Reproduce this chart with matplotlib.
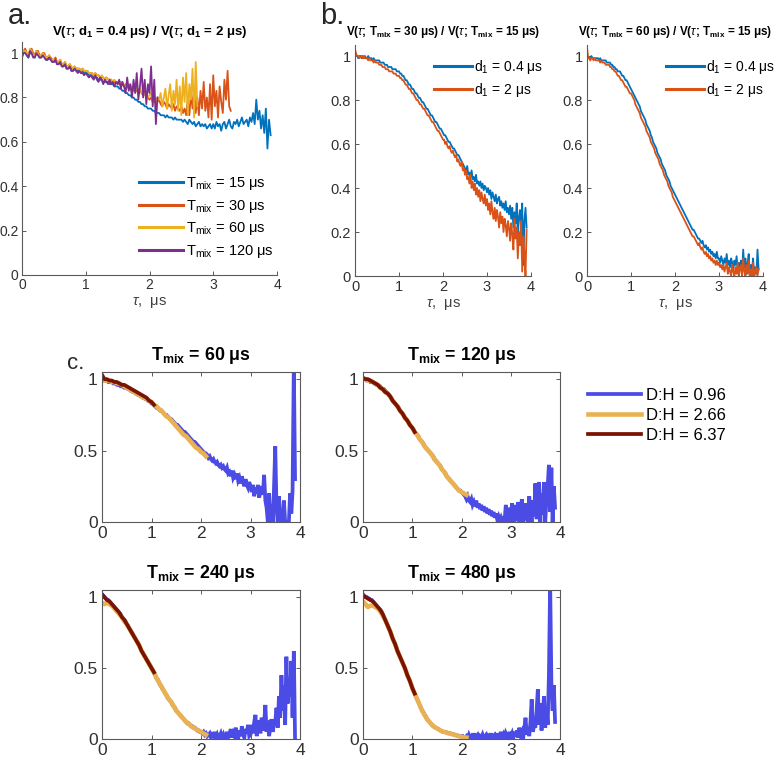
import numpy as np
import matplotlib
matplotlib.use("Agg")
import matplotlib.pyplot as plt

plt.rcParams['font.family'] = ['Liberation Sans', 'DejaVu Sans']
plt.rcParams['mathtext.fontset'] = 'custom'
plt.rcParams['mathtext.rm'] = 'Liberation Sans'
plt.rcParams['mathtext.it'] = 'Liberation Sans:italic'
plt.rcParams['mathtext.bf'] = 'Liberation Sans:bold'

STEP_FINE = 0.025
STEP_FIT = 0.05

# ---------------- Panel a: ratio d1=0.4 / d1=2 for several Tmix ----------------
a_labels = ["15", "30", "60", "120"]
a_tmix15 = [
    0.99, 1.00, 1.01, 0.99, 0.98, 1.00, 1.01, 0.99, 0.98, 1.00, 1.00, 0.98, 0.98, 0.99, 0.99, 0.97, 0.97, 0.98, 0.97, 0.96,
    0.96, 0.97, 0.95, 0.95, 0.96, 0.94, 0.94, 0.95, 0.93, 0.93, 0.94, 0.92, 0.92, 0.93, 0.92, 0.92, 0.92, 0.91, 0.92, 0.91,
    0.91, 0.91, 0.90, 0.90, 0.90, 0.89, 0.89, 0.89, 0.88, 0.88, 0.88, 0.87, 0.87, 0.87, 0.87, 0.86, 0.86, 0.86, 0.85, 0.85,
    0.85, 0.84, 0.84, 0.83, 0.83, 0.82, 0.82, 0.81, 0.81, 0.80, 0.80, 0.79, 0.79, 0.78, 0.78, 0.77, 0.77, 0.76, 0.76, 0.75,
    0.75, 0.75, 0.74, 0.74, 0.73, 0.73, 0.73, 0.72, 0.72, 0.72, 0.71, 0.72, 0.71, 0.71, 0.71, 0.70, 0.71, 0.70, 0.70, 0.70,
    0.70, 0.69, 0.70, 0.69, 0.68, 0.70, 0.69, 0.68, 0.69, 0.67, 0.68, 0.69, 0.67, 0.68, 0.67, 0.68, 0.66, 0.67, 0.68, 0.66,
    0.68, 0.66, 0.69, 0.67, 0.68, 0.65, 0.68, 0.69, 0.66, 0.68, 0.70, 0.67, 0.66, 0.69, 0.68, 0.70, 0.67, 0.69, 0.71, 0.68,
    0.69, 0.70, 0.67, 0.71, 0.69, 0.73, 0.68, 0.79, 0.70, 0.74, 0.66, 0.72, 0.64, 0.75, 0.57, 0.70, 0.63,
]
a_tmix30 = [
    1.00, 1.01, 1.02, 1.00, 0.99, 1.01, 1.02, 1.00, 0.99, 1.01, 1.01, 0.99, 0.99, 1.00, 1.00, 0.98, 0.98, 0.99, 0.98, 0.97,
    0.97, 0.98, 0.96, 0.96, 0.97, 0.95, 0.95, 0.96, 0.94, 0.94, 0.95, 0.93, 0.93, 0.94, 0.93, 0.93, 0.93, 0.92, 0.93, 0.92,
    0.92, 0.92, 0.91, 0.91, 0.91, 0.90, 0.91, 0.90, 0.90, 0.89, 0.89, 0.89, 0.88, 0.89, 0.88, 0.88, 0.88, 0.87, 0.87, 0.87,
    0.87, 0.86, 0.87, 0.86, 0.85, 0.86, 0.85, 0.84, 0.85, 0.84, 0.83, 0.84, 0.83, 0.82, 0.83, 0.82, 0.81, 0.82, 0.81, 0.80,
    0.79, 0.80, 0.78, 0.79, 0.77, 0.78, 0.79, 0.77, 0.76, 0.78, 0.77, 0.75, 0.77, 0.76, 0.75, 0.77, 0.74, 0.76, 0.75, 0.74,
    0.76, 0.73, 0.75, 0.72, 0.79, 0.72, 0.82, 0.75, 0.84, 0.73, 0.80, 0.72, 0.83, 0.75, 0.87, 0.74, 0.80, 0.71, 0.86, 0.70,
    0.90, 0.76, 0.83, 0.71, 0.85, 0.78, 0.73, 0.88, 0.79, 0.92, 0.76, 0.74,
]
a_tmix60 = [
    1.00, 1.01, 1.01, 1.00, 0.99, 1.02, 1.01, 0.99, 0.99, 1.01, 1.00, 0.98, 0.99, 1.00, 0.99, 0.98, 0.98, 0.99, 0.97, 0.97,
    0.97, 0.97, 0.96, 0.96, 0.97, 0.95, 0.95, 0.96, 0.94, 0.94, 0.95, 0.94, 0.93, 0.94, 0.93, 0.93, 0.93, 0.92, 0.93, 0.92,
    0.92, 0.92, 0.91, 0.91, 0.91, 0.90, 0.91, 0.90, 0.90, 0.89, 0.90, 0.89, 0.88, 0.89, 0.88, 0.88, 0.88, 0.87, 0.88, 0.87,
    0.87, 0.87, 0.86, 0.87, 0.85, 0.86, 0.85, 0.86, 0.84, 0.85, 0.84, 0.83, 0.85, 0.82, 0.84, 0.82, 0.83, 0.81, 0.82, 0.80,
    0.81, 0.82, 0.79, 0.81, 0.78, 0.80, 0.79, 0.82, 0.76, 0.80, 0.84, 0.75, 0.81, 0.86, 0.74, 0.83, 0.77, 0.88, 0.74, 0.85,
    0.72, 0.89, 0.78, 0.91, 0.72, 0.86, 0.79, 0.93, 0.71, 0.96, 0.76,
]
a_tmix120 = [
    0.98, 1.00, 1.00, 0.99, 0.98, 1.01, 1.00, 0.98, 0.98, 1.00, 0.99, 0.98, 0.98, 0.99, 0.98, 0.97, 0.97, 0.98, 0.97, 0.96,
    0.96, 0.97, 0.95, 0.95, 0.96, 0.94, 0.94, 0.95, 0.93, 0.93, 0.94, 0.92, 0.92, 0.93, 0.92, 0.91, 0.92, 0.91, 0.91, 0.90,
    0.91, 0.90, 0.89, 0.90, 0.89, 0.88, 0.90, 0.88, 0.87, 0.89, 0.88, 0.86, 0.88, 0.87, 0.86, 0.88, 0.86, 0.87, 0.85, 0.87,
    0.86, 0.88, 0.84, 0.87, 0.85, 0.82, 0.89, 0.83, 0.86, 0.80, 0.88, 0.82, 0.91, 0.79, 0.85, 0.93, 0.80, 0.88, 0.77, 0.86,
    0.82, 0.94, 0.76, 0.88, 0.68, 0.80,
]
a_colors = ["#0072BD", "#D95319", "#EDB120", "#7E2F8E"]

# ---------------- Panel b: Tmix ratios for two d1 ----------------
b_titles = [r"V($\tau$; T$_{\mathbf{mix}}$ = 30 μs) / V($\tau$; T$_{\mathbf{mix}}$ = 15 μs)",
            r"V($\tau$; T$_{\mathbf{mix}}$ = 60 μs) / V($\tau$; T$_{\mathbf{mix}}$ = 15 μs)"]
b_labels = ["0.4", "2"]
b1_d04 = [
    1.02, 1.00, 1.00, 0.99, 1.00, 1.00, 0.99, 1.00, 0.99, 1.00, 0.99, 0.99, 1.00, 0.99, 0.99, 0.99, 0.98, 0.99, 0.98, 0.98,
    0.98, 0.98, 0.98, 0.97, 0.97, 0.97, 0.97, 0.96, 0.96, 0.96, 0.95, 0.95, 0.95, 0.95, 0.94, 0.94, 0.94, 0.94, 0.93, 0.93,
    0.93, 0.92, 0.92, 0.91, 0.91, 0.90, 0.89, 0.89, 0.88, 0.87, 0.87, 0.86, 0.85, 0.85, 0.84, 0.83, 0.83, 0.82, 0.81, 0.81,
    0.80, 0.79, 0.79, 0.78, 0.77, 0.76, 0.76, 0.75, 0.74, 0.73, 0.73, 0.72, 0.71, 0.70, 0.70, 0.69, 0.68, 0.67, 0.67, 0.66,
    0.65, 0.64, 0.64, 0.63, 0.62, 0.61, 0.61, 0.60, 0.59, 0.58, 0.58, 0.57, 0.56, 0.55, 0.55, 0.54, 0.53, 0.52, 0.51, 0.50,
    0.49, 0.47, 0.50, 0.46, 0.47, 0.45, 0.48, 0.44, 0.45, 0.43, 0.46, 0.42, 0.43, 0.41, 0.43, 0.40, 0.42, 0.39, 0.41, 0.40,
    0.38, 0.40, 0.37, 0.39, 0.35, 0.38, 0.36, 0.34, 0.37, 0.33, 0.35, 0.36, 0.32, 0.34, 0.31, 0.33, 0.30, 0.34, 0.29, 0.31,
    0.28, 0.32, 0.26, 0.31, 0.22, 0.29, 0.24, 0.33, 0.18, 0.27, 0.30, 0.21, 0.33, 0.05, 0.25, 0.31, 0.22,
]
b1_d2 = [
    1.03, 1.01, 1.00, 1.00, 0.99, 1.00, 1.00, 0.99, 1.00, 0.99, 0.99, 0.99, 0.98, 0.99, 0.98, 0.98, 0.98, 0.97, 0.98, 0.97,
    0.97, 0.97, 0.96, 0.96, 0.96, 0.95, 0.95, 0.95, 0.94, 0.94, 0.94, 0.93, 0.93, 0.93, 0.93, 0.92, 0.92, 0.92, 0.91, 0.91,
    0.91, 0.90, 0.90, 0.89, 0.89, 0.88, 0.87, 0.87, 0.86, 0.85, 0.85, 0.84, 0.83, 0.83, 0.82, 0.81, 0.80, 0.80, 0.79, 0.78,
    0.78, 0.77, 0.76, 0.76, 0.75, 0.74, 0.73, 0.73, 0.72, 0.71, 0.70, 0.70, 0.69, 0.68, 0.67, 0.66, 0.66, 0.65, 0.64, 0.63,
    0.62, 0.62, 0.60, 0.61, 0.59, 0.58, 0.59, 0.57, 0.56, 0.57, 0.55, 0.54, 0.55, 0.52, 0.53, 0.51, 0.50, 0.52, 0.48, 0.49,
    0.46, 0.48, 0.44, 0.45, 0.42, 0.46, 0.40, 0.43, 0.39, 0.42, 0.37, 0.40, 0.36, 0.39, 0.34, 0.38, 0.35, 0.33, 0.37, 0.32,
    0.35, 0.30, 0.33, 0.28, 0.34, 0.29, 0.26, 0.31, 0.25, 0.30, 0.27, 0.22, 0.29, 0.24, 0.27, 0.20, 0.26, 0.23, 0.18, 0.25,
    0.22, 0.16, 0.24, 0.19, 0.12, 0.26, 0.17, 0.22, 0.08, 0.20, 0.14, 0.25, 0.02, 0.18, 0.10, 0.00, 0.21,
]
b2_d04 = [
    1.01, 0.99, 0.99, 0.99, 1.00, 0.99, 0.99, 0.99, 0.99, 0.99, 0.99, 0.98, 0.99, 0.98, 0.98, 0.98, 0.98, 0.98, 0.97, 0.97,
    0.97, 0.97, 0.96, 0.96, 0.95, 0.95, 0.94, 0.94, 0.93, 0.93, 0.93, 0.92, 0.91, 0.91, 0.90, 0.89, 0.89, 0.88, 0.87, 0.86,
    0.85, 0.84, 0.83, 0.82, 0.81, 0.80, 0.79, 0.78, 0.77, 0.75, 0.74, 0.73, 0.72, 0.71, 0.69, 0.68, 0.67, 0.66, 0.64, 0.63,
    0.61, 0.60, 0.59, 0.58, 0.56, 0.55, 0.54, 0.53, 0.51, 0.50, 0.49, 0.48, 0.46, 0.45, 0.44, 0.43, 0.41, 0.40, 0.39, 0.38,
    0.37, 0.36, 0.35, 0.34, 0.33, 0.32, 0.31, 0.30, 0.29, 0.28, 0.27, 0.26, 0.25, 0.24, 0.23, 0.22, 0.21, 0.21, 0.20, 0.19,
    0.18, 0.17, 0.17, 0.16, 0.15, 0.16, 0.14, 0.13, 0.14, 0.12, 0.13, 0.11, 0.12, 0.10, 0.11, 0.09, 0.10, 0.08, 0.11, 0.08,
    0.08, 0.06, 0.09, 0.07, 0.05, 0.08, 0.06, 0.10, 0.05, 0.07, 0.04, 0.08, 0.06, 0.03, 0.07, 0.05, 0.09, 0.03, 0.06, 0.04,
    0.07, 0.02, 0.12, 0.04, 0.08, 0.01, 0.06, 0.10, 0.00, 0.05, 0.03, 0.08, 0.00, 0.04, 0.01, 0.12, 0.03,
]
b2_d2 = [
    1.04, 0.99, 0.99, 0.98, 0.99, 0.99, 0.98, 0.99, 0.98, 0.98, 0.98, 0.98, 0.97, 0.98, 0.97, 0.97, 0.97, 0.96, 0.96, 0.96,
    0.96, 0.95, 0.95, 0.94, 0.94, 0.93, 0.93, 0.92, 0.91, 0.91, 0.90, 0.89, 0.89, 0.88, 0.87, 0.86, 0.86, 0.85, 0.84, 0.83,
    0.83, 0.82, 0.81, 0.80, 0.78, 0.77, 0.76, 0.75, 0.74, 0.72, 0.71, 0.70, 0.69, 0.68, 0.66, 0.65, 0.64, 0.63, 0.61, 0.60,
    0.59, 0.58, 0.56, 0.55, 0.54, 0.53, 0.51, 0.50, 0.49, 0.48, 0.46, 0.45, 0.44, 0.43, 0.41, 0.40, 0.39, 0.38, 0.36, 0.35,
    0.34, 0.33, 0.32, 0.31, 0.30, 0.29, 0.28, 0.27, 0.26, 0.25, 0.24, 0.23, 0.22, 0.21, 0.20, 0.19, 0.18, 0.18, 0.17, 0.16,
    0.15, 0.14, 0.15, 0.13, 0.12, 0.13, 0.11, 0.10, 0.11, 0.09, 0.10, 0.08, 0.09, 0.07, 0.08, 0.06, 0.07, 0.05, 0.07, 0.05,
    0.06, 0.04, 0.05, 0.03, 0.05, 0.02, 0.04, 0.06, 0.01, 0.04, 0.02, 0.00, 0.05, 0.02, 0.00, 0.04, 0.01, 0.06, 0.00, 0.03,
    0.05, 0.00, 0.08, 0.02, 0.00, 0.05, 0.01, 0.07, 0.00, 0.03, 0.00, 0.06, 0.00, 0.02, 0.04, 0.00, 0.03,
]
b_colors = ["#0072BD", "#D95319"]

# ---------------- Panel c: data (blue) + fits for three D:H ratios ----------------
c_tmix = ["60", "120", "240", "480"]
c_dh = ["0.96", "2.66", "6.37"]
c_colors = ["#4B4BE6", "#E9B152", "#7A1300"]

c_data = [
    [  # Tmix = 60
        1.00, 0.99, 0.99, 0.99, 0.99, 0.98, 0.98, 0.98, 0.98, 0.97, 0.97, 0.97, 0.96, 0.96, 0.96, 0.95, 0.95, 0.95, 0.94, 0.94,
        0.94, 0.93, 0.93, 0.92, 0.92, 0.91, 0.91, 0.90, 0.90, 0.89, 0.89, 0.88, 0.88, 0.87, 0.87, 0.86, 0.86, 0.85, 0.85, 0.84,
        0.83, 0.83, 0.82, 0.81, 0.80, 0.80, 0.79, 0.78, 0.78, 0.77, 0.76, 0.75, 0.75, 0.74, 0.73, 0.72, 0.72, 0.71, 0.70, 0.69,
        0.68, 0.68, 0.67, 0.66, 0.65, 0.64, 0.63, 0.63, 0.62, 0.61, 0.60, 0.59, 0.58, 0.57, 0.56, 0.56, 0.55, 0.54, 0.53, 0.52,
        0.51, 0.50, 0.49, 0.48, 0.48, 0.47, 0.45, 0.46, 0.44, 0.43, 0.44, 0.42, 0.41, 0.42, 0.40, 0.39, 0.40, 0.38, 0.39, 0.37,
        0.36, 0.38, 0.34, 0.35, 0.32, 0.36, 0.31, 0.33, 0.30, 0.34, 0.29, 0.31, 0.27, 0.32, 0.28, 0.25, 0.30, 0.26, 0.24, 0.28,
        0.25, 0.21, 0.26, 0.18, 0.24, 0.20, 0.26, 0.17, 0.22, 0.25, 0.19, 0.33, 0.15, 0.10, 0.00, 0.20, 0.00, 0.12, 0.00, 0.24,
        0.53, 0.10, 0.00, 0.18, 0.02, 0.00, 0.00, 0.15, 0.00, 0.00, 0.00, 0.00, 0.20, 0.06, 0.22, 1.10, 0.30,
    ],
    [  # Tmix = 120
        1.00, 1.00, 1.00, 0.99, 0.99, 0.99, 0.98, 0.98, 0.98, 0.97, 0.97, 0.96, 0.96, 0.95, 0.95, 0.94, 0.93, 0.93, 0.92, 0.91,
        0.90, 0.89, 0.88, 0.87, 0.85, 0.84, 0.83, 0.82, 0.81, 0.80, 0.78, 0.77, 0.76, 0.75, 0.73, 0.72, 0.71, 0.70, 0.68, 0.67,
        0.66, 0.65, 0.63, 0.62, 0.61, 0.60, 0.58, 0.57, 0.56, 0.55, 0.53, 0.52, 0.51, 0.50, 0.49, 0.48, 0.47, 0.46, 0.44, 0.43,
        0.42, 0.41, 0.40, 0.39, 0.37, 0.36, 0.35, 0.34, 0.32, 0.31, 0.30, 0.29, 0.28, 0.27, 0.26, 0.25, 0.24, 0.23, 0.22, 0.22,
        0.21, 0.20, 0.19, 0.18, 0.16, 0.18, 0.15, 0.14, 0.16, 0.12, 0.14, 0.11, 0.15, 0.10, 0.13, 0.09, 0.12, 0.08, 0.11, 0.07,
        0.10, 0.06, 0.09, 0.05, 0.08, 0.04, 0.07, 0.03, 0.06, 0.02, 0.04, 0.01, 0.03, 0.00, 0.02, 0.01, 0.12, 0.00, 0.03, 0.10,
        0.00, 0.13, 0.02, 0.00, 0.12, 0.01, 0.14, 0.00, 0.05, 0.16, 0.00, 0.08, 0.13, 0.02, 0.00, 0.18, 0.06, 0.00, 0.15, 0.04,
        0.27, 0.02, 0.10, 0.28, 0.00, 0.20, 0.05, 0.28, 0.00, 0.16, 0.25, 0.40, 0.07, 0.38, 0.00, 0.25, 0.10,
    ],
    [  # Tmix = 240
        1.02, 1.01, 1.00, 0.99, 0.98, 0.98, 0.97, 0.96, 0.95, 0.94, 0.93, 0.92, 0.91, 0.90, 0.89, 0.88, 0.86, 0.85, 0.84, 0.83,
        0.81, 0.80, 0.78, 0.77, 0.75, 0.74, 0.72, 0.71, 0.69, 0.68, 0.66, 0.64, 0.62, 0.61, 0.59, 0.58, 0.56, 0.55, 0.53, 0.52,
        0.50, 0.48, 0.47, 0.45, 0.43, 0.42, 0.40, 0.38, 0.37, 0.35, 0.34, 0.32, 0.31, 0.29, 0.28, 0.27, 0.26, 0.24, 0.23, 0.22,
        0.20, 0.19, 0.18, 0.17, 0.16, 0.15, 0.14, 0.13, 0.12, 0.11, 0.11, 0.10, 0.09, 0.09, 0.08, 0.08, 0.07, 0.06, 0.06, 0.05,
        0.05, 0.04, 0.05, 0.03, 0.04, 0.02, 0.03, 0.04, 0.01, 0.03, 0.02, 0.05, 0.01, 0.03, 0.00, 0.02, 0.04, 0.01, 0.03, 0.00,
        0.02, 0.05, 0.01, 0.03, 0.07, 0.01, 0.04, 0.02, 0.08, 0.03, 0.00, 0.06, 0.02, 0.09, 0.03, 0.01, 0.07, 0.04, 0.10, 0.02,
        0.03, 0.10, 0.04, 0.12, 0.17, 0.02, 0.09, 0.13, 0.04, 0.15, 0.06, 0.10, 0.24, 0.05, 0.13, 0.02, 0.08, 0.14, 0.05, 0.11,
        0.12, 0.22, 0.08, 0.30, 0.15, 0.45, 0.20, 0.38, 0.10, 0.58, 0.25, 0.42, 0.30, 0.55, 0.15, 0.62, 0.00,
    ],
    [  # Tmix = 480
        1.02, 1.01, 1.00, 1.00, 0.99, 0.99, 0.98, 0.98, 0.97, 0.96, 0.95, 0.94, 0.93, 0.92, 0.91, 0.90, 0.88, 0.86, 0.84, 0.82,
        0.80, 0.78, 0.76, 0.74, 0.71, 0.69, 0.67, 0.65, 0.62, 0.60, 0.58, 0.56, 0.54, 0.52, 0.50, 0.48, 0.45, 0.43, 0.41, 0.39,
        0.36, 0.34, 0.32, 0.30, 0.28, 0.26, 0.24, 0.22, 0.20, 0.19, 0.17, 0.16, 0.14, 0.13, 0.12, 0.11, 0.10, 0.09, 0.085, 0.08,
        0.075, 0.07, 0.065, 0.06, 0.055, 0.05, 0.05, 0.05, 0.045, 0.04, 0.04, 0.04, 0.035, 0.035, 0.03, 0.03, 0.025, 0.025, 0.02, 0.02,
        0.015, 0.02, 0.01, 0.01, 0.02, 0.005, 0.03, 0.01, 0.02, 0.00, 0.04, 0.01, 0.02, 0.03, 0.00, 0.02, 0.01, 0.03, 0.00, 0.02,
        0.03, 0.00, 0.02, 0.01, 0.04, 0.00, 0.02, 0.03, 0.01, 0.04, 0.00, 0.02, 0.05, 0.01, 0.03, 0.00, 0.04, 0.02, 0.01, 0.05,
        0.02, 0.04, 0.00, 0.05, 0.02, 0.06, 0.01, 0.08, 0.03, 0.05, 0.00, 0.07, 0.15, 0.03, 0.08, 0.02, 0.12, 0.28, 0.05, 0.10,
        0.08, 0.20, 0.35, 0.10, 0.25, 0.06, 0.18, 0.30, 0.08, 0.22, 0.10, 0.45, 1.10, 0.40, 0.20, 0.38, 0.12,
    ],
]
c_fit_266 = [
    [1.00, 0.99, 0.99, 0.99, 0.98, 0.98, 0.97, 0.97, 0.96, 0.95, 0.94, 0.93, 0.92, 0.91, 0.90, 0.89, 0.88, 0.87, 0.86, 0.85,
     0.84, 0.82, 0.81, 0.79, 0.78, 0.76, 0.74, 0.73, 0.71, 0.69, 0.67, 0.65, 0.63, 0.61, 0.60, 0.58, 0.56, 0.54, 0.52, 0.51,
     0.49, 0.48, 0.46],
    [1.00, 1.00, 0.99, 0.99, 0.98, 0.97, 0.96, 0.94, 0.93, 0.91, 0.90, 0.88, 0.85, 0.83, 0.81, 0.78, 0.76, 0.73, 0.71, 0.68,
     0.66, 0.63, 0.61, 0.58, 0.56, 0.53, 0.51, 0.49, 0.47, 0.44, 0.42, 0.40, 0.37, 0.35, 0.32, 0.30, 0.28, 0.26, 0.24, 0.22,
     0.21, 0.20, 0.19],
    [0.96, 0.95, 0.96, 0.95, 0.94, 0.92, 0.90, 0.88, 0.86, 0.83, 0.81, 0.78, 0.75, 0.72, 0.69, 0.66, 0.62, 0.59, 0.56, 0.53,
     0.50, 0.47, 0.43, 0.40, 0.37, 0.34, 0.31, 0.28, 0.26, 0.23, 0.20, 0.18, 0.16, 0.14, 0.12, 0.11, 0.09, 0.08, 0.07, 0.06,
     0.05, 0.04, 0.03],
    [0.97, 0.95, 0.93, 0.94, 0.94, 0.93, 0.92, 0.90, 0.87, 0.84, 0.80, 0.76, 0.71, 0.67, 0.62, 0.58, 0.54, 0.50, 0.45, 0.41,
     0.36, 0.32, 0.28, 0.24, 0.20, 0.17, 0.14, 0.12, 0.10, 0.085, 0.075, 0.065, 0.055, 0.05, 0.045, 0.04, 0.035, 0.03, 0.025,
     0.02, 0.015, 0.012, 0.01],
]
c_fit_637 = [
    [1.03, 1.00, 1.00, 0.99, 0.99, 0.98, 0.98, 0.97, 0.96, 0.96, 0.95, 0.94, 0.93, 0.92, 0.91, 0.90, 0.89, 0.88, 0.87, 0.85,
     0.84, 0.82],
    [1.01, 1.00, 1.00, 0.99, 0.98, 0.97, 0.96, 0.94, 0.93, 0.91, 0.90, 0.88, 0.85, 0.83, 0.81, 0.78, 0.76, 0.73, 0.71, 0.68,
     0.66, 0.63],
    [1.02, 1.00, 0.98, 0.97, 0.95, 0.93, 0.91, 0.89, 0.86, 0.84, 0.81, 0.78, 0.75, 0.72, 0.69, 0.66, 0.62, 0.59, 0.56, 0.53,
     0.50, 0.47],
    [1.01, 1.00, 0.99, 0.98, 0.97, 0.95, 0.93, 0.91, 0.88, 0.84, 0.80, 0.76, 0.71, 0.67, 0.62, 0.58, 0.54, 0.50, 0.45, 0.41,
     0.36, 0.32],
]

AX_COL = "#303030"
SPINE_COL = "#5a5a5a"


def tau(vals, step):
    return np.arange(len(vals)) * step


def style_axes(ax, box, fs, ticks_y, pad=3):
    ax.set_xlim(0, 4)
    ax.set_ylim(0, 1.05)
    ax.set_xticks([0, 1, 2, 3, 4])
    ax.set_yticks(ticks_y)
    ax.set_yticklabels([("%g" % t) for t in ticks_y])
    for side in ("left", "bottom", "top", "right"):
        ax.spines[side].set_color(SPINE_COL)
        ax.spines[side].set_linewidth(0.8)
    if not box:
        ax.spines["top"].set_visible(False)
        ax.spines["right"].set_visible(False)
    ax.tick_params(direction="in", length=3, width=0.7, colors=SPINE_COL,
                   labelcolor=AX_COL, labelsize=fs, pad=pad,
                   top=box, right=box)


fig = plt.figure(figsize=(7.77, 7.61), dpi=100)
W, H = 777, 761


def add_ax(l, r, t, b):
    return fig.add_axes([l / W, 1 - b / H, (r - l) / W, (b - t) / H])


# ---- panel a ----
axa = add_ax(22, 277, 42, 275)
for vals, col, lab in zip([a_tmix15, a_tmix30, a_tmix60, a_tmix120], a_colors, a_labels):
    axa.plot(tau(vals, STEP_FINE), vals, color=col, lw=1.3,
             label=r"T$_{\mathrm{mix}}$ = " + lab + " μs")
style_axes(axa, False, 10, [0, 0.2, 0.4, 0.6, 0.8, 1], pad=2.5)
axa.set_xlabel(r"$\tau$,  μs", fontsize=10.5, color="#404040", labelpad=2)
axa.set_title(r"V($\tau$; d$_{\mathbf{1}}$ = 0.4 μs) / V($\tau$; d$_{\mathbf{1}}$ = 2 μs)",
              fontsize=9.5, fontweight="bold", pad=5)
lega = axa.legend(loc="upper left", bbox_to_anchor=(0.46, 0.43), frameon=False,
                  fontsize=10.5, handlelength=3.0, handletextpad=0.2,
                  labelspacing=0.4, borderpad=0, borderaxespad=0)
for ln in lega.get_lines():
    ln.set_linewidth(2.2)

# ---- panel b ----
for k, (l, r) in enumerate([(355, 531), (587, 763)]):
    axb = add_ax(l, r, 45, 276)
    pair = [b1_d04, b1_d2] if k == 0 else [b2_d04, b2_d2]
    for vals, col, lab in zip(pair, b_colors, b_labels):
        axb.plot(tau(vals, STEP_FINE), vals, color=col, lw=1.3,
                 label=r"d$_1$ = " + lab + " μs")
    style_axes(axb, False, 10.5, [0, 0.2, 0.4, 0.6, 0.8, 1])
    axb.set_xlabel(r"$\tau$,  μs", fontsize=10.5, color="#404040", labelpad=2)
    axb.set_title(b_titles[k], fontsize=8.4, fontweight="bold", pad=7)
    legb = axb.legend(loc="upper left", bbox_to_anchor=(0.45, 0.945), frameon=False,
                      fontsize=10, handlelength=2.7, handletextpad=0.2,
                      labelspacing=0.4, borderpad=0, borderaxespad=0)
    for ln in legb.get_lines():
        ln.set_linewidth(2.2)

# ---- panel c ----
c_boxes = [(102, 300, 372, 522), (363, 560, 372, 522),
           (102, 300, 590, 739), (363, 560, 590, 739)]
handles = None
for k, (l, r, t, b) in enumerate(c_boxes):
    axc = add_ax(l, r, t, b)
    h1, = axc.plot(tau(c_data[k], STEP_FINE), c_data[k], color=c_colors[0], lw=2.7,
                   solid_joinstyle="miter")
    h2, = axc.plot(tau(c_fit_266[k], STEP_FIT), c_fit_266[k], color=c_colors[1], lw=3.3)
    h3, = axc.plot(tau(c_fit_637[k], STEP_FIT), c_fit_637[k], color=c_colors[2], lw=2.7)
    style_axes(axc, True, 12.5, [0, 0.5, 1])
    axc.set_title(r"T$_{\mathbf{mix}}$ = " + c_tmix[k] + " μs", fontsize=12.8,
                  fontweight="bold", pad=9)
    handles = [h1, h2, h3]

fig.legend(handles, ["D:H = " + v for v in c_dh], loc="upper left",
           bbox_to_anchor=(588 / W, 1 - 388 / H), frameon=False, fontsize=12,
           handlelength=3.2, handletextpad=0.3, labelspacing=0.3,
           borderpad=0, borderaxespad=0)

# ---- panel labels ----
fig.text(8 / W, 1 - 24 / H, "a.", fontsize=21, color="#262626")
fig.text(320 / W, 1 - 24 / H, "b.", fontsize=21, color="#262626")
fig.text(67 / W, 1 - 369 / H, "c.", fontsize=16, color="#262626")

fig.savefig("out.png", dpi=100)
